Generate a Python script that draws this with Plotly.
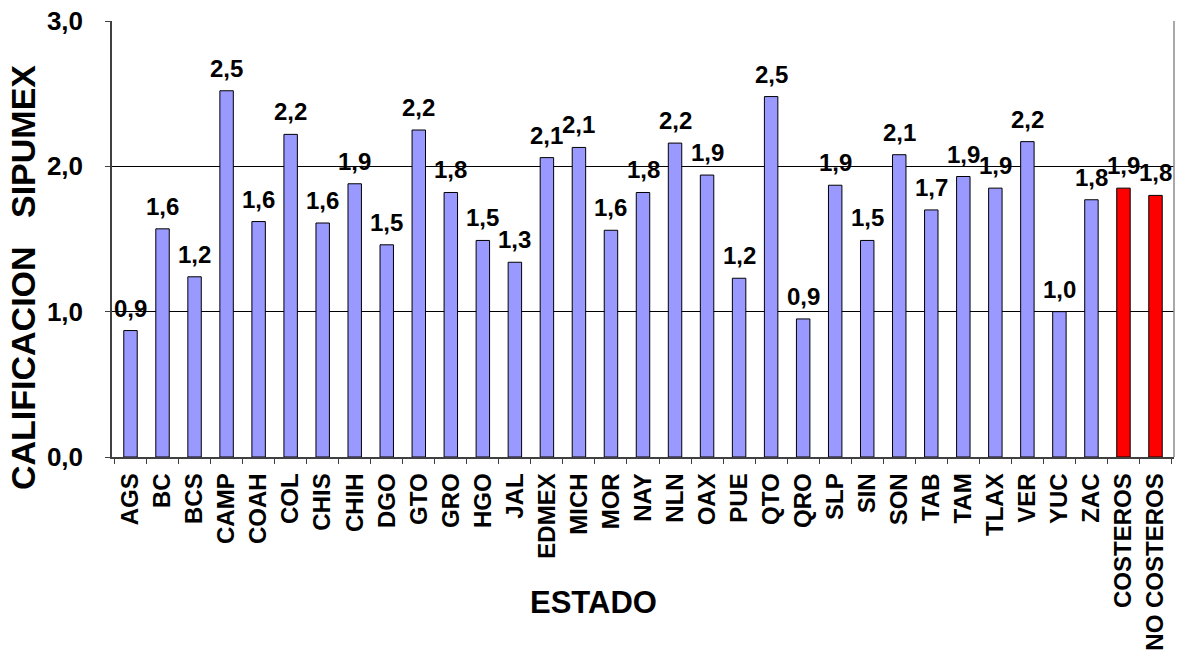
import plotly.graph_objects as go

# SIPUMEX score by state, plus coastal / non-coastal averages
estados = ["AGS", "BC", "BCS", "CAMP", "COAH", "COL", "CHIS", "CHIH", "DGO", "GTO",
           "GRO", "HGO", "JAL", "EDMEX", "MICH", "MOR", "NAY", "NLN", "OAX", "PUE",
           "QTO", "QRO", "SLP", "SIN", "SON", "TAB", "TAM", "TLAX", "VER", "YUC",
           "ZAC", "COSTEROS", "NO COSTEROS"]
calificacion = [0.87, 1.57, 1.24, 2.52, 1.62, 2.22, 1.61, 1.88, 1.46, 2.25,
                1.82, 1.49, 1.34, 2.06, 2.13, 1.56, 1.82, 2.16, 1.94, 1.23,
                2.48, 0.95, 1.87, 1.49, 2.08, 1.70, 1.93, 1.85, 2.17, 1.00,
                1.77, 1.85, 1.80]
grupos = {"COSTEROS", "NO COSTEROS"}
y_ticks = [0, 1, 2, 3]

FONT = "Arial, 'Liberation Sans', sans-serif"
AZUL = "#9999FF"
ROJO = "#FF0000"

colores = [ROJO if e in grupos else AZUL for e in estados]


def fmt(v):
    return f"{v:.1f}".replace(".", ",")


fig = go.Figure(
    go.Bar(
        x=estados,
        y=calificacion,
        marker=dict(color=colores, line=dict(color="#000000", width=1)),
        hoverinfo="x+y",
    )
)

# value labels above each bar
for e, v in zip(estados, calificacion):
    fig.add_annotation(
        x=e, y=v, text=f"<b>{fmt(v)}</b>", showarrow=False,
        yanchor="bottom", yshift=7,
        font=dict(family=FONT, size=24, color="#000000"),
    )

# axis titles
fig.add_annotation(
    xref="paper", yref="paper", x=0.4534, y=-0.334,
    text="<b>ESTADO</b>", showarrow=False, xanchor="center", yanchor="middle",
    font=dict(family=FONT, size=31, color="#000000"),
)
fig.add_annotation(
    xref="paper", yref="paper", x=-0.0833, y=0.4117,
    text="<b>CALIFICACION   SIPUMEX</b>", showarrow=False, textangle=-90,
    xanchor="center", yanchor="middle",
    font=dict(family=FONT, size=34, color="#000000"),
)

# right edge of the plot frame
fig.add_shape(type="line", xref="paper", yref="paper", x0=1, x1=1, y0=0, y1=1,
              line=dict(color="#8c8c8c", width=1.5))

fig.update_layout(
    width=1183, height=653,
    margin=dict(l=112, r=9, t=21, b=196),
    paper_bgcolor="white", plot_bgcolor="white",
    showlegend=False,
    bargap=0.58,
    font=dict(family=FONT, color="#000000"),
)

fig.update_xaxes(
    type="category",
    automargin=False,
    tickangle=-90,
    tickson="boundaries",
    ticks="outside", ticklen=5, tickcolor="#404040", tickwidth=1,
    showline=True, linecolor="#404040", linewidth=1.5,
    showgrid=False,
    tickfont=dict(family=FONT, size=24, color="#000000"),
    ticklabelstandoff=5,
    tickprefix="<b>", ticksuffix="</b>",
)

fig.update_yaxes(
    automargin=False,
    range=[0, 3],
    tickvals=y_ticks,
    ticktext=[f"<b>{fmt(t)}</b>" for t in y_ticks],
    ticks="outside", ticklen=5, tickcolor="#404040", tickwidth=1,
    showline=True, linecolor="#404040", linewidth=1.5,
    showgrid=True, gridcolor="#000000", gridwidth=1,
    zeroline=False,
    tickfont=dict(family=FONT, size=26, color="#000000"),
    ticklabelstandoff=17,
)

fig.write_html("out.html")
